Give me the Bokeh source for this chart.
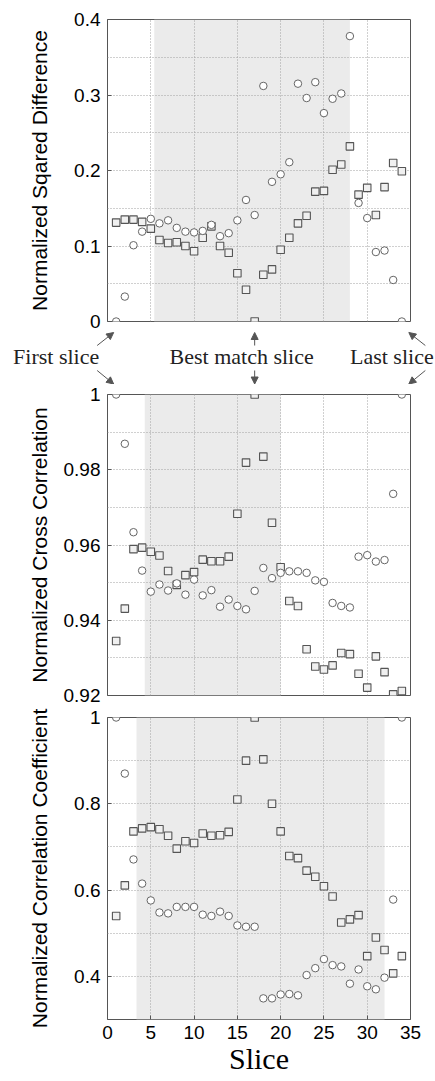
from bokeh.plotting import figure
from bokeh.layouts import column
from bokeh.models import BoxAnnotation, FixedTicker, Arrow, NormalHead, Range1d
from bokeh.core.properties import value
from bokeh.embed import file_html
from bokeh.resources import INLINE

# ---------------- data ----------------
slices = list(range(1, 35))

sqd_circle = [0, 0.033, 0.101, 0.119, 0.136, 0.130, 0.134, 0.124, 0.119, 0.118,
              0.120, 0.128, 0.113, 0.117, 0.134, 0.161, 0.141, 0.312, 0.185, 0.195,
              0.211, 0.315, 0.296, 0.317, 0.276, 0.295, 0.302, 0.378, 0.157, 0.137,
              0.092, 0.094, 0.055, 0]
sqd_square = [0.131, 0.135, 0.135, 0.132, 0.123, 0.108, 0.104, 0.105, 0.100, 0.093,
              0.111, 0.126, 0.100, 0.091, 0.064, 0.042, 0, 0.062, 0.069, 0.095,
              0.111, 0.130, 0.140, 0.172, 0.173, 0.201, 0.208, 0.232, 0.168, 0.177,
              0.141, 0.178, 0.210, 0.199]

ncc_circle = [1.0, 0.9869, 0.9634, 0.9532, 0.9476, 0.9495, 0.9479, 0.9498, 0.9468, 0.9508,
              0.9466, 0.9480, 0.9436, 0.9455, 0.9438, 0.9429, 0.9478, 0.9539, 0.9512, 0.9526,
              0.9530, 0.9530, 0.9526, 0.9506, 0.9502, 0.9446, 0.9438, 0.9434, 0.9569, 0.9573,
              0.9556, 0.9560, 0.9736, 1.0]
ncc_square = [0.9345, 0.9431, 0.9589, 0.9593, 0.9582, 0.9572, 0.9531, 0.9494, 0.9520, 0.9528,
              0.9561, 0.9557, 0.9557, 0.9569, 0.9683, 0.9819, 1.0, 0.9835, 0.9659, 0.9541,
              0.9451, 0.9438, 0.9323, 0.9277, 0.9269, 0.9280, 0.9313, 0.9310, 0.9258, 0.9221,
              0.9304, 0.9262, 0.9203, 0.9212]

ncoef_circle = [1.0, 0.870, 0.671, 0.615, 0.576, 0.548, 0.546, 0.561, 0.561, 0.561,
                0.543, 0.540, 0.550, 0.540, 0.518, 0.515, 0.515, 0.349, 0.349, 0.358,
                0.359, 0.356, 0.403, 0.419, 0.440, 0.426, 0.423, 0.383, 0.416, 0.377,
                0.370, 0.397, 0.578, 1.0]
ncoef_square = [0.540, 0.611, 0.736, 0.743, 0.746, 0.741, 0.726, 0.696, 0.713, 0.709,
                0.731, 0.726, 0.727, 0.735, 0.810, 0.900, 1.0, 0.903, 0.800, 0.736,
                0.679, 0.674, 0.645, 0.631, 0.609, 0.585, 0.525, 0.532, 0.542, 0.447,
                0.490, 0.461, 0.407, 0.447]

# shaded slice ranges per panel
shade_sqd = [5.4, 28.0]
shade_ncc = [4.3, 20.0]
shade_ncoef = [3.35, 32.0]

# axis ticks and labels
x_ticks = [0, 5, 10, 15, 20, 25, 30, 35]
x_tick_labels = ["0", "5", "10", "15", "20", "25", "30", "35"]
y1_ticks = [0, 0.1, 0.2, 0.3, 0.4]
y1_labels = ["0", "0.1", "0.2", "0.3", "0.4"]
y1_grid = [0.05, 0.1, 0.15, 0.2, 0.25, 0.3, 0.35]
y2_ticks = [0.92, 0.94, 0.96, 0.98, 1.0]
y2_labels = ["0.92", "0.94", "0.96", "0.98", "1"]
y2_grid = [0.93, 0.94, 0.95, 0.96, 0.97, 0.98, 0.99]
y3_ticks = [0.4, 0.6, 0.8, 1.0]
y3_labels = ["0.4", "0.6", "0.8", "1"]
y3_grid = [0.4, 0.5, 0.6, 0.7, 0.8, 0.9]

marked_slices = [1, 17, 34]
marked_names = ["First slice", "Best match slice", "Last slice"]

# ---------------- styling ----------------
FW = 303          # frame width in px
LB = 107          # left border
RB = 24           # right border
SANS = "Liberation Sans"
SERIF = "Liberation Serif"
EDGE = "#555555"


def make_panel(y_lo, y_hi, fh, top, bottom, ticks, labels, grid, ylabel, lstand, shade,
               circ, sq, show_x):
    p = figure(frame_width=FW, frame_height=fh, min_border_left=LB, min_border_right=RB,
               min_border_top=top, min_border_bottom=bottom,
               x_range=Range1d(0, 35), y_range=Range1d(y_lo, y_hi),
               x_axis_location="below" if show_x else None,
               output_backend="svg", toolbar_location=None)
    p.outline_line_color = EDGE
    p.outline_line_width = 1
    p.background_fill_color = "white"
    p.border_fill_color = "white"

    p.add_layout(BoxAnnotation(left=shade[0], right=shade[1], fill_color="#ebebeb",
                               fill_alpha=1, line_color=None, level="image"))

    for g in (p.xgrid, p.ygrid):
        g.grid_line_color = "#a0a0a0"
        g.grid_line_dash = "1 2"
        g.grid_line_width = 1
    p.xgrid.ticker = FixedTicker(ticks=x_ticks[1:-1])
    p.ygrid.ticker = FixedTicker(ticks=grid)

    ya = p.yaxis[0]
    ya.ticker = FixedTicker(ticks=ticks)
    ya.major_label_overrides = {t: l for t, l in zip(ticks, labels)}
    ya.major_label_text_font = SANS
    ya.major_label_text_font_size = "19px"
    ya.major_label_text_color = "black"
    ya.major_label_standoff = 7
    ya.major_tick_in = 4
    ya.major_tick_out = 0
    ya.minor_tick_in = 0
    ya.minor_tick_out = 0
    ya.major_tick_line_color = EDGE
    ya.axis_line_color = None
    ya.axis_label = ylabel
    ya.axis_label_text_font = SANS
    ya.axis_label_text_font_size = "21px"
    ya.axis_label_text_font_style = "normal"
    ya.axis_label_text_color = "black"
    ya.axis_label_standoff = lstand

    if show_x:
        xa = p.xaxis[0]
        xa.ticker = FixedTicker(ticks=x_ticks)
        xa.major_tick_in = 4
        xa.major_tick_out = 0
        xa.minor_tick_in = 0
        xa.minor_tick_out = 0
        xa.major_tick_line_color = EDGE
        xa.axis_line_color = None
        xa.major_label_overrides = {t: l for t, l in zip(x_ticks, x_tick_labels)}
        xa.major_label_text_font = SANS
        xa.major_label_text_font_size = "19px"
        xa.major_label_text_color = "black"
        xa.major_label_standoff = 6
        xa.axis_label = "Slice"
        xa.axis_label_text_font = SERIF
        xa.axis_label_text_font_size = "30px"
        xa.axis_label_text_font_style = "normal"
        xa.axis_label_text_color = "black"
        xa.axis_label_standoff = 0

    p.scatter(slices, sq, marker="square", size=7.5, line_color=EDGE, line_width=1.1,
              fill_color="#f0f0f0")
    p.scatter(slices, circ, marker="circle", size=7.5, line_color="#666666", line_width=1,
              fill_color="white")
    return p


p1 = make_panel(0, 0.4, 302, 19, 10, y1_ticks, y1_labels, y1_grid,
                "Normalized Sqared Difference", 20, shade_sqd, sqd_circle, sqd_square, False)
p2 = make_panel(0.92, 1.0, 301, 10, 11, y2_ticks, y2_labels, y2_grid,
                "Normalized Cross Correlation", 10, shade_ncc, ncc_circle, ncc_square, False)
p3 = make_panel(0.3, 1.0, 302, 11, 0, y3_ticks, y3_labels, y3_grid,
                "Normalized Correlation Coefficient", 20, shade_ncoef, ncoef_circle,
                ncoef_square, True)

# ---------------- annotation strip between panel 1 and panel 2 ----------------
SW = LB + FW + RB          # strip width (same as panels)
SH = 53                    # strip height in px
spx = 35 / FW              # slices per pixel (same x scale as the panels)
strip = figure(frame_width=SW, frame_height=SH, min_border=0,
               min_border_left=0, min_border_right=0, min_border_top=0, min_border_bottom=0,
               x_range=Range1d(-LB * spx, (SW - LB) * spx), y_range=Range1d(0, SH),
               x_axis_location=None, y_axis_location=None,
               output_backend="svg", toolbar_location=None)
strip.frame_align = False
strip.outline_line_color = None
strip.xgrid.visible = False
strip.ygrid.visible = False
strip.background_fill_color = "white"
strip.border_fill_color = "white"

ARROW = "#555555"
# pixel offsets of arrow start / tip from each marked slice
arrow_dx_start = [-19, 0, 23.5]
arrow_dx_tip = [-2.5, 0, 7]
text_dx = [-60, -13, -10]

for sl, ds, dt in zip(marked_slices, arrow_dx_start, arrow_dx_tip):
    # up toward panel 1's bottom edge
    strip.add_layout(Arrow(end=NormalHead(size=7, fill_color=ARROW, line_color=ARROW),
                           x_start=sl + ds * spx, y_start=SH - 14,
                           x_end=sl + dt * spx, y_end=SH - 1,
                           line_color=ARROW, line_width=1))
    # down toward panel 2's top edge
    strip.add_layout(Arrow(end=NormalHead(size=7, fill_color=ARROW, line_color=ARROW),
                           x_start=sl + ds * spx, y_start=14,
                           x_end=sl + dt * spx, y_end=0.5,
                           line_color=ARROW, line_width=1))

strip.text(x=[sl + d * spx for sl, d in zip(marked_slices, text_dx)],
           y=[28] * len(marked_slices), text=marked_names,
           text_align="center", text_baseline="alphabetic",
           text_font=value(SERIF), text_font_size=value("22px"), text_color="#222222")

layout = column(p1, strip, p2, p3, spacing=0)
open("out.html", "w").write(file_html(layout, INLINE))
